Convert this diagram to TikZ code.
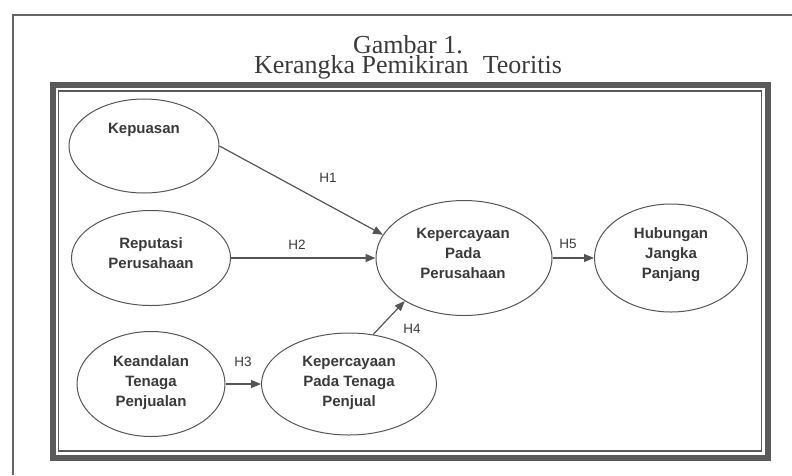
\documentclass[tikz,border=0pt]{standalone}
\usepackage{fontspec}
\setmainfont{Liberation Serif}
\newfontfamily\arialf{Liberation Sans}
\usetikzlibrary{shapes.geometric,arrows.meta}
\definecolor{linec}{HTML}{555555}
\definecolor{framec}{HTML}{5A5A5A}
\definecolor{txtc}{HTML}{3A3A3A}
\tikzset{
  ell/.style={draw=linec, line width=1pt, ellipse, inner sep=0pt},
  etxt/.style={font=\arialf\bfseries\fontsize{15}{20}\selectfont, text=txtc, align=center, inner sep=0pt},
  hlab/.style={font=\arialf\fontsize{13.5}{15}\selectfont, text=txtc, inner sep=0pt},
  conn/.style={draw=linec, line width=1.2pt, -{Triangle[length=10pt,width=8pt]}},
  ttl/.style={font=\fontsize{26}{20}\selectfont, text=txtc, align=center, inner sep=0pt}
}
\begin{document}
\begin{tikzpicture}[x=1pt,y=-1pt]
\useasboundingbox[fill=white] (0,0) rectangle (792,475);
% page border
\coordinate (pbA) at (13,475);
\coordinate (pbB) at (13,15);
\coordinate (pbC) at (792,15);
\draw[gray!80!black, line width=1.2pt] (pbA) -- (pbB) -- (pbC);
% title
\node[ttl] (ttl) at (408,57) {Gambar 1.\\Kerangka Pemikiran\hspace{0.3em} Teoritis};
% frame
\draw[framec, line width=6pt] (52.5,84.5) rectangle (768,458);
\draw[framec, line width=1.2pt] (58.5,91) rectangle (761.5,451);
% ellipses
\node[ell, minimum width=150pt, minimum height=94pt] (kep) at (144,146) {};
\node[ell, minimum width=159pt, minimum height=95pt] (rep) at (151,258) {};
\node[ell, minimum width=176pt, minimum height=115pt] (kpp) at (464,258) {};
\node[ell, minimum width=153pt, minimum height=108pt] (hjp) at (671,258) {};
\node[ell, minimum width=148pt, minimum height=105pt] (ktp) at (151,384) {};
\node[ell, minimum width=175pt, minimum height=102pt] (kptp) at (349,384) {};
% texts
\node[etxt] (kepT) at (144,130) {Kepuasan};
\node[etxt] (repT) at (151,253) {Reputasi\\Perusahaan};
\node[etxt] (kppT) at (463,253) {Kepercayaan\\Pada\\Perusahaan};
\node[etxt] (hjpT) at (671,255) {Hubungan\\Jangka\\Panjang};
\node[etxt] (ktpT) at (151,383) {Keandalan\\Tenaga\\Penjualan};
\node[etxt] (kptpT) at (349,383) {Kepercayaan\\Pada Tenaga\\Penjual};
% connectors
\draw[conn] (kep.east) -- (kpp.164);
\draw[conn] (rep.east) -- (kpp.west);
\draw[conn] (kpp.east) -- (hjp.west);
\draw[conn] (ktp.east) -- (kptp.west);
\draw[conn] (kptp.64) -- (kpp.216);
% labels
\node[hlab] (h1) at (328,178) {H1};
\node[hlab] (h2) at (297,245) {H2};
\node[hlab] (h5) at (568,244) {H5};
\node[hlab] (h3) at (243,362) {H3};
\node[hlab] (h4) at (412,329) {H4};
\end{tikzpicture}
\end{document}
